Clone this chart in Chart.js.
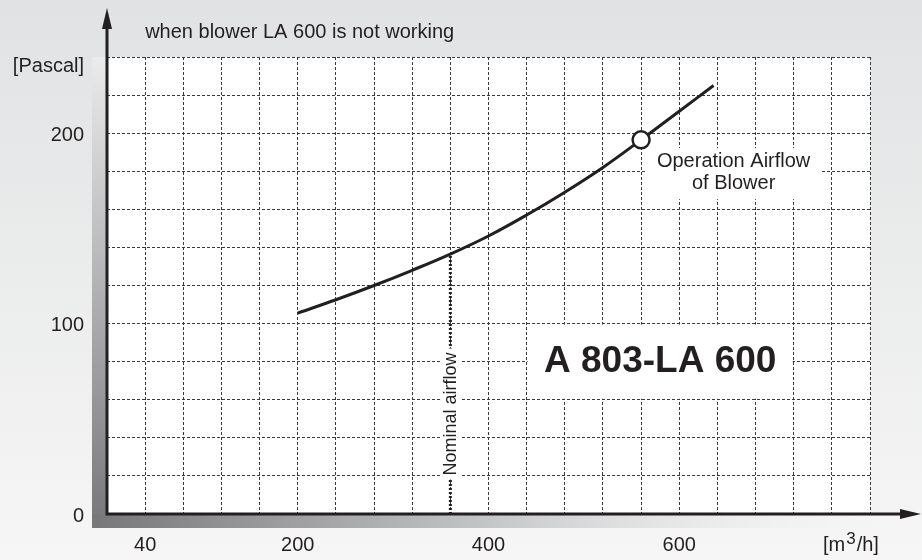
<!DOCTYPE html>
<html>
<head>
<meta charset="utf-8">
<script src="https://cdn.jsdelivr.net/npm/chart.js@4.4.1/dist/chart.umd.min.js"></script>
<style>
	html, body { margin: 0; padding: 0; background: #ececec; }
	#wrap { width: 922px; height: 560px; }
</style>
</head>
<body>
<div id="wrap"><canvas id="blower-chart" width="922" height="560"></canvas></div>
<script>
// curve
const airflow = [200, 240, 280, 320, 360, 400, 440, 480, 520, 560, 600, 636];
const pressure = [105.5, 112.5, 120, 128, 136.5, 146, 157, 169, 182, 196.5, 211.5, 225];
const operationAirflow = [560];
const operationPressure = [196.5];
const nominalAirflow = [360, 360];
const nominalPressure = [0, 136.5];
const xTickLabels = [40, 200, 400, 600];
const yTickLabels = [0, 100, 200];

const ink = '#231f20';
const fontFamily = "'Liberation Sans', Arial, sans-serif";
Chart.defaults.font.family = fontFamily;

const toPoints = (xs, ys) => xs.map((x, i) => ({ x: x, y: ys[i] }));

const backgroundPlugin = {
	id: 'background',
	beforeDraw: (chart) => {
		const ctx = chart.ctx;
		const a = chart.chartArea;
		ctx.save();
		let g = ctx.createLinearGradient(0, 0, 0, chart.height);
		g.addColorStop(0, '#e1e2e3');
		g.addColorStop(1, '#f6f6f6');
		ctx.fillStyle = g;
		ctx.fillRect(0, 0, chart.width, chart.height);

		// shadow on the left of the y axis
		g = ctx.createLinearGradient(0, a.top, 0, a.bottom + 14);
		g.addColorStop(0, '#ebebec');
		g.addColorStop(1, '#77777a');
		ctx.fillStyle = g;
		ctx.fillRect(a.left - 15, a.top, 15, a.bottom - a.top + 14);

		// shadow below the x axis
		g = ctx.createLinearGradient(a.left - 15, 0, a.right + 10, 0);
		g.addColorStop(0, '#77777a');
		g.addColorStop(0.5, '#c4c5c7');
		g.addColorStop(1, 'rgba(240,240,240,0)');
		ctx.fillStyle = g;
		ctx.fillRect(a.left - 15, a.bottom, a.right - a.left + 25, 14);

		ctx.fillStyle = '#ffffff';
		ctx.fillRect(a.left, a.top, a.right - a.left, a.bottom - a.top);
		ctx.restore();
	}
};

const notesPlugin = {
	id: 'notes',
	afterDatasetsDraw: (chart) => {
		const ctx = chart.ctx;
		const a = chart.chartArea;
		const xs = chart.scales.x;
		const ys = chart.scales.y;
		ctx.save();
		ctx.fillStyle = ink;
		ctx.textBaseline = 'middle';

		// title above the plot
		ctx.font = '20px ' + fontFamily;
		ctx.textAlign = 'left';
		ctx.fillText('when blower LA 600 is not working', xs.getPixelForValue(40), a.top - 25);

		// axis units
		ctx.textAlign = 'right';
		ctx.fillText('[Pascal]', a.left - 23, a.top + 9);
		ctx.textAlign = 'left';
		let ux = a.right - 47;
		const uy = a.bottom + 37;
		ctx.textBaseline = 'alphabetic';
		ctx.fillText('[m', ux, uy);
		ux += ctx.measureText('[m').width + 1;
		ctx.font = '17px ' + fontFamily;
		ctx.fillText('3', ux, uy - 7);
		ux += ctx.measureText('3').width + 1;
		ctx.font = '20px ' + fontFamily;
		ctx.fillText('/h]', ux, uy);
		ctx.textBaseline = 'middle';

		// operation point label
		let cx = xs.getPixelForValue(657);
		let cy = ys.getPixelForValue(179.5);
		ctx.fillStyle = '#ffffff';
		ctx.fillRect(cx - 87, cy - 24, 174, 51);
		ctx.fillStyle = ink;
		ctx.textAlign = 'center';
		ctx.fillText('Operation Airflow', cx, cy - 11);
		ctx.fillText('of Blower', cx, cy + 11);

		// model name box between grid lines
		const bx1 = xs.getPixelForValue(440) + 1;
		const bx2 = xs.getPixelForValue(720) - 1;
		const by1 = ys.getPixelForValue(100) + 1;
		const by2 = ys.getPixelForValue(60) - 1;
		ctx.fillStyle = '#ffffff';
		ctx.fillRect(bx1, by1, bx2 - bx1, by2 - by1);
		ctx.fillStyle = ink;
		ctx.font = 'bold 37px ' + fontFamily;
		ctx.fillText('A 803-LA 600', (bx1 + bx2) / 2, ys.getPixelForValue(80));

		// nominal airflow, rotated
		cx = xs.getPixelForValue(nominalAirflow[0]);
		cy = ys.getPixelForValue(52.5);
		ctx.translate(cx, cy);
		ctx.rotate(-Math.PI / 2);
		ctx.font = '18px ' + fontFamily;
		const w = ctx.measureText('Nominal airflow').width;
		ctx.fillStyle = '#ffffff';
		ctx.fillRect(-w / 2 - 4, -9, w + 8, 19);
		ctx.fillStyle = ink;
		ctx.fillText('Nominal airflow', 0, 1);
		ctx.restore();
	},
	afterDraw: (chart) => {
		const ctx = chart.ctx;
		const a = chart.chartArea;
		ctx.save();
		ctx.strokeStyle = ink;
		ctx.fillStyle = ink;
		ctx.lineWidth = 3;
		ctx.beginPath();
		ctx.moveTo(a.left, a.bottom + 1.5);
		ctx.lineTo(a.left, 26);
		ctx.moveTo(a.left - 1.5, a.bottom);
		ctx.lineTo(chart.width - 20, a.bottom);
		ctx.stroke();
		// arrow heads
		ctx.beginPath();
		ctx.moveTo(a.left, 8);
		ctx.lineTo(a.left - 5, 29);
		ctx.lineTo(a.left + 5, 29);
		ctx.closePath();
		ctx.fill();
		ctx.beginPath();
		ctx.moveTo(chart.width - 1, a.bottom);
		ctx.lineTo(chart.width - 22, a.bottom - 5);
		ctx.lineTo(chart.width - 22, a.bottom + 5);
		ctx.closePath();
		ctx.fill();
		ctx.restore();
	}
};

const gridStyle = { color: '#3a3a3a', lineWidth: 1, drawTicks: false };

new Chart(document.getElementById('blower-chart'), {
	type: 'scatter',
	data: {
		datasets: [
			{
				data: toPoints(nominalAirflow, nominalPressure),
				order: 3,
				showLine: true,
				borderColor: ink,
				borderWidth: 3,
				borderDash: [2, 2],
				pointRadius: 0
			},
			{
				data: toPoints(airflow, pressure),
				order: 2,
				showLine: true,
				tension: 0.4,
				borderColor: ink,
				borderWidth: 3,
				pointRadius: 0
			},
			{
				data: toPoints(operationAirflow, operationPressure),
				order: 1,
				pointRadius: 8.5,
				pointBorderWidth: 2.5,
				pointBorderColor: ink,
				pointBackgroundColor: '#ffffff'
			}
		]
	},
	options: {
		responsive: false,
		animation: false,
		layout: { padding: { top: 57, right: 52, left: 0, bottom: 0 } },
		plugins: { legend: { display: false }, tooltip: { enabled: false } },
		scales: {
			x: {
				type: 'linear',
				min: 0,
				max: 800,
				afterFit: (s) => { s.height = 46; },
				grid: gridStyle,
				border: { display: false, dash: [3, 2] },
				ticks: {
					stepSize: 40,
					autoSkip: false,
					maxRotation: 0,
					padding: 19,
					color: ink,
					font: { size: 20 },
					callback: (v) => xTickLabels.includes(v) ? String(v) : ''
				}
			},
			y: {
				type: 'linear',
				min: 0,
				max: 240,
				afterFit: (s) => { s.width = 107; },
				grid: gridStyle,
				border: { display: false, dash: [3, 2] },
				ticks: {
					stepSize: 20,
					autoSkip: false,
					padding: 23,
					labelOffset: 2,
					color: ink,
					font: { size: 20 },
					callback: (v) => yTickLabels.includes(v) ? String(v) : ''
				}
			}
		}
	},
	plugins: [backgroundPlugin, notesPlugin]
});
</script>
</body>
</html>
